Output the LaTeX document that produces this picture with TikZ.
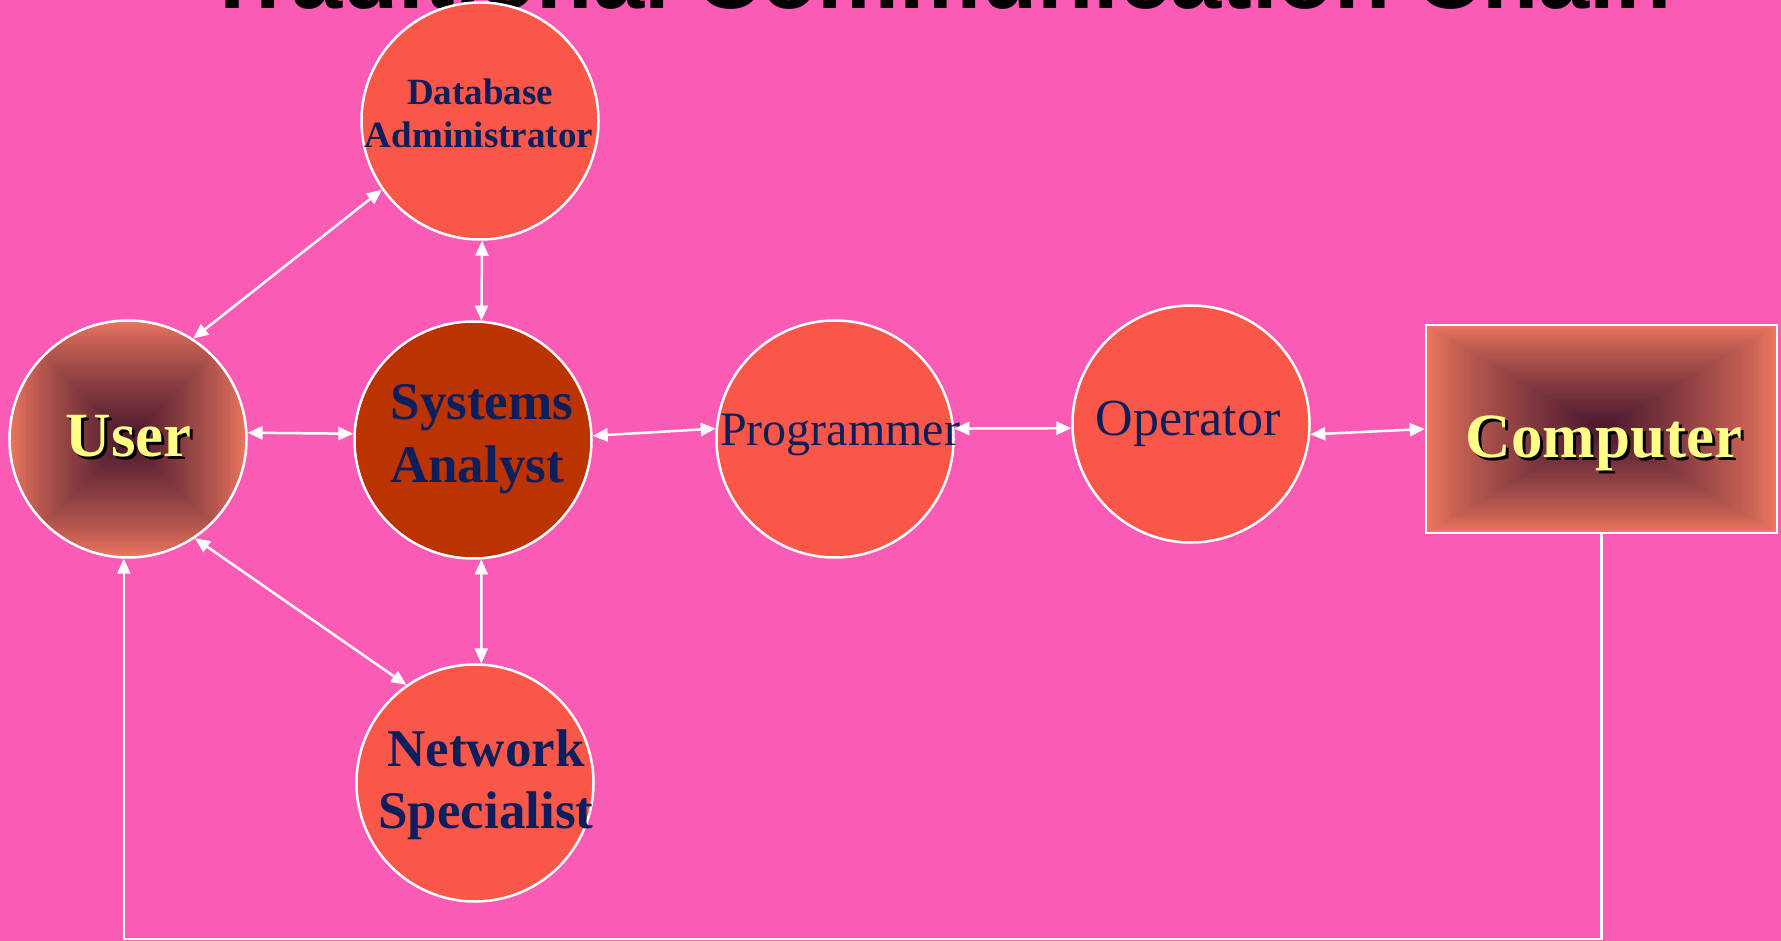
\documentclass[tikz,border=0pt]{standalone}
\usepackage{fontspec}
\setmainfont{Liberation Serif}
\newfontfamily\titlefont{Liberation Sans}
\usetikzlibrary{arrows.meta}

\definecolor{bgpink}{HTML}{F95BB5}
\definecolor{coral}{HTML}{F95849}
\definecolor{rust}{HTML}{BB3300}
\definecolor{navy}{HTML}{0C1F5C}
\definecolor{lemon}{HTML}{FFFF88}
\definecolor{gradout}{HTML}{EE7860}
\definecolor{gradin}{HTML}{4A182E}

\begin{document}
\begin{tikzpicture}[x=1pt,y=-1pt,
  bubble/.style={circle, draw=white, line width=2.5pt, minimum size=237pt, inner sep=0pt},
  boxnode/.style={rectangle, draw=white, line width=2.5pt, minimum width=351pt, minimum height=208pt, inner sep=0pt},
  word/.style={anchor=base, inner sep=0pt, text=navy},
  bigword/.style={word, font=\bfseries\fontsize{53}{60}\selectfont},
  glow/.style={anchor=base, inner sep=0pt, text=lemon, font=\bfseries\fontsize{63}{70}\selectfont},
  shade/.style={anchor=base, inner sep=0pt, text=black, font=\bfseries\fontsize{63}{70}\selectfont},
  link/.style={draw=white, line width=2.5pt, {Triangle[length=15pt,width=13pt]}-{Triangle[length=15pt,width=13pt]}},
  feed/.style={draw=white, line width=2.2pt, -{Triangle[length=15pt,width=13pt]}}]

% canvas
\fill[bgpink] (0,0) rectangle (1781,941);
\useasboundingbox (0,0) rectangle (1781,941);

% heading, mostly above the page edge
\node[anchor=base, inner sep=0pt, font=\titlefont\bfseries\fontsize{92}{100}\selectfont] (title) at (938,9) {Traditional Communication Chain};

% rectangular gradient inside the User circle
\begin{scope}
  \clip (128,439) circle[radius=119pt];
  \foreach \i in {0,...,59}{
    \pgfmathsetmacro\s{119*(1-\i/60)}
    \pgfmathsetmacro\p{100*(\i/59)^0.8}
    \fill[gradin!\p!gradout] (128-\s,439-\s) rectangle (128+\s,439+\s);
  }
\end{scope}

% rectangular gradient inside the Computer box
\foreach \i in {0,...,59}{
  \pgfmathsetmacro\f{1-\i/60}
  \pgfmathsetmacro\p{100*(\i/59)^0.8}
  \fill[gradin!\p!gradout] (1601.5-175.5*\f,429-104*\f) rectangle (1601.5+175.5*\f,429+104*\f);
}

% nodes
\node[bubble, fill=coral] (dba) at (480,121) {};
\node[bubble, fill=rust] (sa) at (473,440) {};
\node[bubble] (user) at (128,439) {};
\node[bubble, fill=coral] (prog) at (835,439) {};
\node[bubble, fill=coral] (op) at (1191,424) {};
\node[bubble, fill=coral] (ns) at (475,783) {};
\node[boxnode] (comp) at (1601.5,429) {};

% labels
\node[word, font=\bfseries\fontsize{37}{42}\selectfont] (dbaA) at (480,105) {Database};
\node[word, font=\bfseries\fontsize{37}{42}\selectfont] (dbaB) at (479,148) {Administrator};
\node[bigword] (saA) at (482,419) {Systems};
\node[bigword] (saB) at (477,482) {Analyst};
\node[bigword] (nsA) at (486,766) {Network};
\node[bigword] (nsB) at (486,828) {Specialist};
\node[word, font=\fontsize{48}{54}\selectfont] (progT) at (840,445) {Programmer};
\node[word, font=\fontsize{52}{58}\selectfont] (opT) at (1188,435) {Operator};
\node[shade] (userS) at (131.5,459) {User};
\node[glow] (userT) at (128.5,456) {User};
\node[shade] (compS) at (1607,460) {Computer};
\node[glow] (compT) at (1604,457) {Computer};

% connectors
\draw[link] (user.57.5) -- (dba.215);
\draw[link] (user.3) -- (sa.177);
\draw[link] (user.-56) -- (ns.125);
\draw[link] (dba.-89) -- (sa.86);
\draw[link] (sa.-86) -- (ns.87);
\draw[link] (sa.2) -- (prog.175);
\draw[link] (prog.5) -- (op.182);
\draw[link] (op.-5) -- (comp.west);

% feedback loop from the computer back to the user
\coordinate (floor) at (0,939);
\draw[feed] (comp.south) -- (comp.south |- floor) -| (user.268);
\end{tikzpicture}
\end{document}
